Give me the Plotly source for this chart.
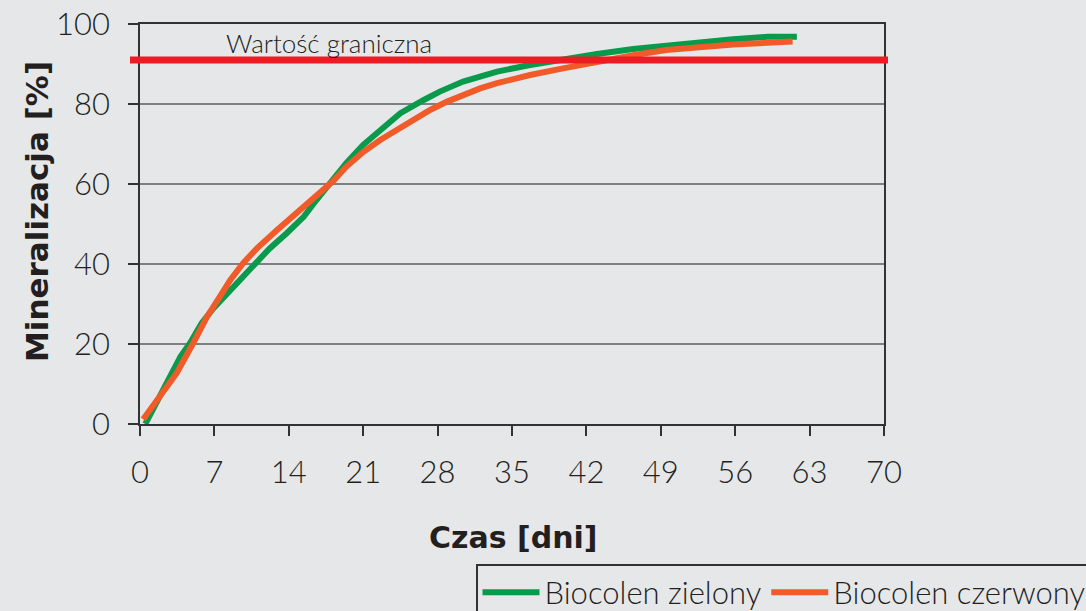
import plotly.graph_objects as go

# Data
days_green = [0.5, 2.2, 3.8, 4.7, 5.8, 6.9, 8.5, 10, 11, 12.2, 13.8, 15.4, 16.6, 17.9, 19.4, 21, 22.9, 24.5,
              26.7, 28.2, 30.4, 33.6, 36.7, 39.8, 43, 46.4, 49.5, 52.7, 55.8, 59, 61.8]
vals_green = [0, 8.5, 16.8, 20.2, 25.2, 28.9, 33.5, 37.3, 40.2, 43.9, 47.7, 51.8, 56, 60.5, 65.2, 69.8, 74.3,
              77.7, 81, 83.1, 85.6, 88.1, 89.75, 91.2, 92.5, 93.75, 94.6, 95.4, 96.2, 96.8, 96.8]

days_orange = [0.3, 1.9, 3.45, 5, 6.3, 7.5, 8.5, 9.7, 11, 12.9, 14.7, 16.6, 18.2, 19.4, 21, 22.6, 24.1, 25.7,
               27.3, 28.9, 30.4, 32, 33.6, 36.7, 39.8, 43, 46.4, 49.5, 52.7, 55.8, 59, 61.4]
vals_orange = [1.2, 6.8, 12.7, 20.2, 26.8, 31.8, 36, 40.2, 43.9, 48.5, 52.7, 56.8, 60.8, 64.3, 68, 71, 73.5,
               76, 78.5, 80.6, 82.25, 83.9, 85.2, 87.25, 88.9, 90.6, 92.2, 93.5, 94.3, 94.9, 95.3, 95.6]

threshold = 91
threshold_label = "Wartość graniczna"
x_ticks = [0, 7, 14, 21, 28, 35, 42, 49, 56, 63, 70]
y_ticks = [0, 20, 40, 60, 80, 100]
series_names = ["Biocolen zielony", "Biocolen czerwony"]

BG = "#e6e7e9"
FONT = "Lato"
BOLD_FONT = "DejaVu Sans"
TXT = "#231f20"

fig = go.Figure()
fig.add_trace(go.Scatter(x=days_green, y=vals_green, mode="lines", name=series_names[0],
                         line=dict(color="#0a9a4b", width=6)))
fig.add_trace(go.Scatter(x=days_orange, y=vals_orange, mode="lines", name=series_names[1],
                         line=dict(color="#f15a29", width=6)))

fig.add_shape(type="line", xref="paper", yref="y", x0=-10 / 744, x1=1 + 4 / 744,
              y0=threshold, y1=threshold, line=dict(color="#ed1c24", width=7), layer="above")

fig.add_annotation(x=8, y=threshold, xref="x", yref="y", xanchor="left", yanchor="bottom",
                   text=threshold_label, showarrow=False, borderpad=0,
                   font=dict(family=FONT, size=26, color=TXT, weight=300))

fig.add_annotation(x=-103 / 744, y=(424 - 212) / 400, xref="paper", yref="paper",
                   xanchor="center", yanchor="middle", textangle=-90, showarrow=False,
                   text="<b>Mineralizacja [%]</b>", font=dict(family=BOLD_FONT, size=31, color=TXT))
fig.add_annotation(x=(513 - 140) / 744, y=(424 - 537) / 400, xref="paper", yref="paper",
                   xanchor="center", yanchor="middle", showarrow=False,
                   text="<b>Czas [dni]</b>", font=dict(family=BOLD_FONT, size=30, color=TXT))

axis_common = dict(showline=True, linecolor="#333333", linewidth=1.5, mirror=True,
                   ticks="outside", ticklen=10, tickwidth=1.5, tickcolor="#333333",
                   zeroline=False, tickfont=dict(family=FONT, size=31, color=TXT, weight=300))

fig.update_xaxes(range=[0, 70], tickvals=x_ticks, showgrid=False, ticklabelstandoff=10, **axis_common)
fig.update_yaxes(range=[0, 100], tickvals=y_ticks, showgrid=True, gridcolor="#7f7f7f", gridwidth=1.5,
                 ticklabelstandoff=12, **axis_common)

fig.update_layout(
    width=1086, height=611,
    paper_bgcolor=BG, plot_bgcolor=BG,
    margin=dict(l=140, r=202, t=24, b=187, autoexpand=False),
    showlegend=True,
    legend=dict(orientation="h", x=(476 - 140) / 744, y=(424 - 564) / 400, xanchor="left", yanchor="top",
                bgcolor=BG, bordercolor="#333333", borderwidth=1.5, itemwidth=57,
                font=dict(family=FONT, size=31, color=TXT, weight=300)),
    font=dict(family=FONT, color=TXT),
)

fig.write_html("out.html", config={"displayModeBar": False},
               post_script="document.body.style.margin='0';document.body.style.overflow='hidden';")
